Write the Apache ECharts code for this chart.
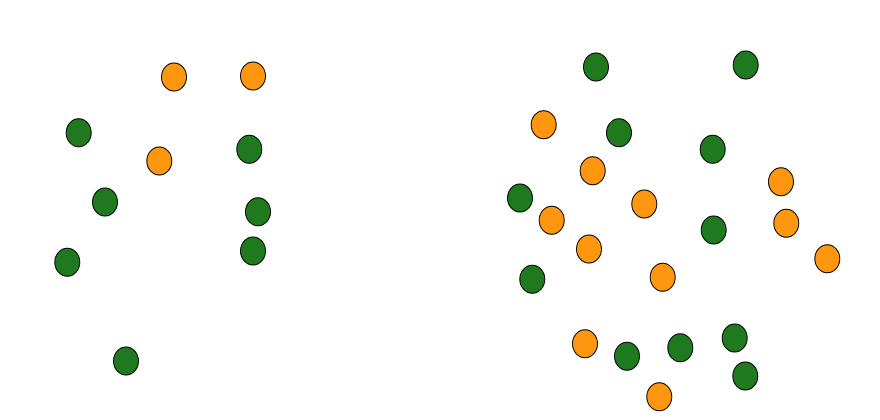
<!DOCTYPE html>
<html>
<head>
<meta charset="utf-8">
<script src="https://cdn.jsdelivr.net/npm/echarts@6/dist/echarts.min.js"></script>
<style>html,body{margin:0;padding:0;background:#fff}#chart{width:880px;height:420px}</style>
</head>
<body>
<div id="chart"></div>
<script>
const greenX = [78.7, 249.3, 105, 258, 67.3, 253, 126, 596, 745.7, 619, 712.7, 520, 713.7, 532.3, 627, 680.3, 734.7, 745.3];
const greenY = [132.7, 149.3, 202, 211.7, 262.3, 251, 361, 67, 65, 132.7, 149.3, 198, 230, 279.3, 356.3, 347.7, 338, 376];
const orangeX = [174, 253, 159.3, 543.7, 592.7, 781, 644.3, 551.7, 786.3, 589, 827.3, 662.7, 585, 659.3];
const orangeY = [77, 76, 161, 124.7, 170.7, 181.7, 204, 220.3, 223.3, 249, 258.7, 277.3, 343.7, 396.7];

const zip = (xs, ys) => xs.map((x, i) => [x, ys[i]]);

const chart = echarts.init(document.getElementById('chart'), null, {renderer: 'canvas'});
chart.setOption({
  animation: false,
  backgroundColor: '#ffffff',
  grid: {left: 0, right: 0, top: 0, bottom: 0},
  xAxis: {type: 'value', min: 0, max: 880, show: false},
  yAxis: {type: 'value', min: 0, max: 420, inverse: true, show: false},
  series: [
    {
      type: 'scatter',
      symbol: 'circle',
      symbolSize: [25, 28],
      data: zip(greenX, greenY),
      itemStyle: {color: '#1f7a1f', borderColor: '#000', borderWidth: 1, opacity: 1}
    },
    {
      type: 'scatter',
      symbol: 'circle',
      symbolSize: [25, 28],
      data: zip(orangeX, orangeY),
      itemStyle: {color: '#ff960f', borderColor: '#000', borderWidth: 1, opacity: 1}
    }
  ]
});
</script>
</body>
</html>
